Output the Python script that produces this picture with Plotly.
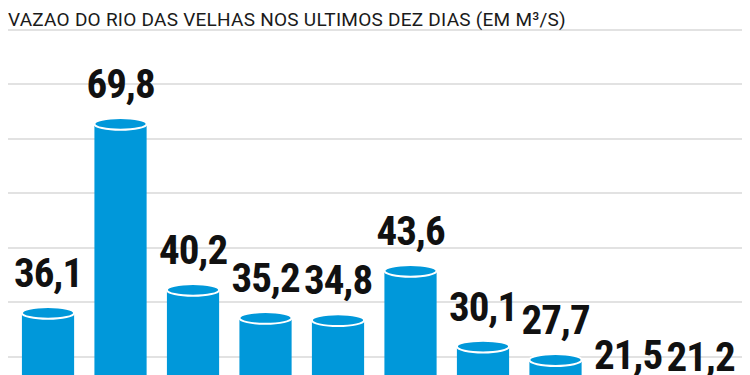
import plotly.graph_objects as go

title_text = "VAZAO DO RIO DAS VELHAS NOS ULTIMOS DEZ DIAS (EM M³/S)"
days = list(range(10))
flow = [36.1, 69.8, 40.2, 35.2, 34.8, 43.6, 30.1, 27.7, 21.5, 21.2]
labels = [f"{v:.1f}".replace(".", ",") for v in flow]

BLUE = "#0098DA"
bar_w = 0.72
cap_h = 2.1
Y_RANGE = [23.6, 90.47]
PX_PER_UNIT = 375 / (Y_RANGE[1] - Y_RANGE[0])
LABEL_GAP_PX = 36  # gap between value line and label centre

fig = go.Figure()
fig.add_trace(go.Bar(x=days, y=flow, width=bar_w, marker=dict(color=BLUE, line=dict(width=0)),
                     hoverinfo="skip"))
fig.add_trace(go.Scatter(
    x=days, y=[v + LABEL_GAP_PX / PX_PER_UNIT for v in flow], mode="text",
    text=[f'<span style="letter-spacing:-1px">{t}</span>' for t in labels],
    textposition="middle center", cliponaxis=False, hoverinfo="skip",
    textfont=dict(family="Roboto Condensed", size=41, color="#111111", weight="bold")))

shapes = []
for d, v in zip(days, flow):
    shapes.append(dict(type="circle", xref="x", yref="y", x0=d - bar_w / 2, x1=d + bar_w / 2,
                       y0=v - cap_h / 2, y1=v + cap_h / 2, fillcolor=BLUE,
                       line=dict(color="white", width=2), layer="above"))

annotations = [dict(x=0, y=1, xref="paper", yref="paper", xanchor="left", yanchor="top",
                    xshift=-2, yshift=2,
                    text=f'<span style="letter-spacing:0.25px">{title_text}</span>', showarrow=False,
                    font=dict(family="Roboto", size=19, color="#1a1a1a"))]

fig.update_layout(
    width=750, height=375, margin=dict(l=0, r=0, t=0, b=0),
    plot_bgcolor="white", paper_bgcolor="white", showlegend=False,
    xaxis=dict(range=[-0.552, 9.793], visible=False, fixedrange=True),
    yaxis=dict(range=Y_RANGE, tick0=28.3, dtick=9.72, showgrid=True, gridcolor="#e2e2e2",
               gridwidth=2, zeroline=False, showticklabels=False, ticks="", fixedrange=True),
    shapes=shapes, annotations=annotations,
)

fig.write_html("out.html")
